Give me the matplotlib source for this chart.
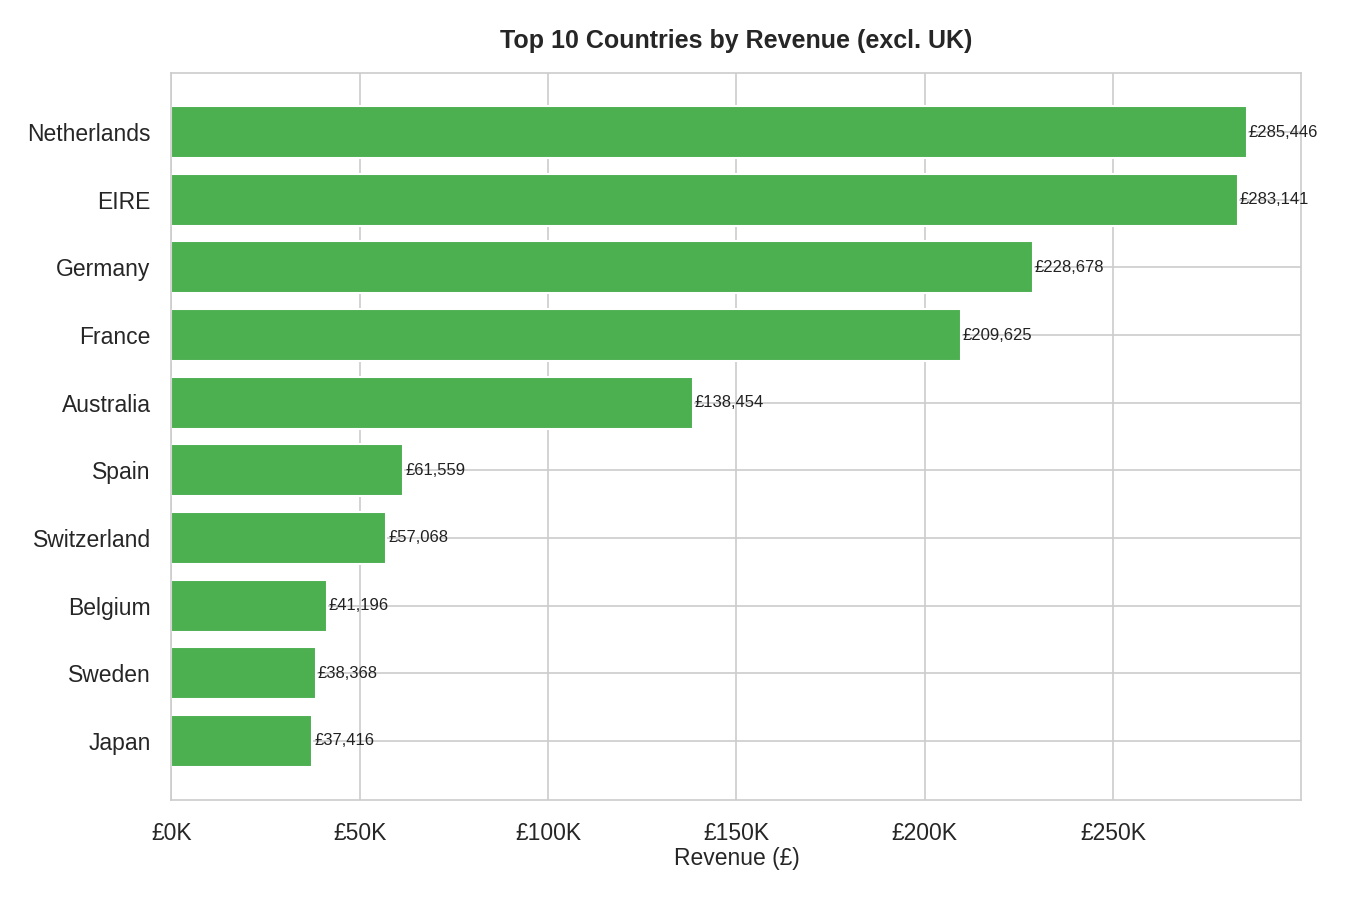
import matplotlib.pyplot as plt
import seaborn as sns
from matplotlib.ticker import FuncFormatter

countries = ["Netherlands", "EIRE", "Germany", "France", "Australia",
             "Spain", "Switzerland", "Belgium", "Sweden", "Japan"]
revenue = [285446, 283141, 228678, 209625, 138454,
           61559, 57068, 41196, 38368, 37416]

sns.set_style("whitegrid")
plt.rcParams['font.family'] = ['Arial', 'Liberation Sans', 'DejaVu Sans']

fig = plt.figure(figsize=(9, 6), dpi=150)
ax = fig.add_axes([0.127, 0.111, 0.837, 0.808])

ax.barh(countries[::-1], revenue[::-1], color="#4CAF50", height=0.77)
for c, v in zip(countries, revenue):
    ax.text(v + 500, c, "£{:,}".format(v), va="center", ha="left", fontsize=8, color="#222222")

ax.set_xlim(0, 300000)
ax.set_xticks([0, 50000, 100000, 150000, 200000, 250000])
ax.xaxis.set_major_formatter(FuncFormatter(lambda x, p: "£{:.0f}K".format(x / 1000)))
ax.tick_params(labelsize=11)
ax.tick_params(axis="y", pad=6.5)
ax.tick_params(axis="x", pad=7)
ax.set_xlabel("Revenue (£)", fontsize=11, labelpad=1)
ax.set_title("Top 10 Countries by Revenue (excl. UK)", fontsize=12, fontweight="bold", pad=12)
for s in ax.spines.values():
    s.set_color("#cccccc")

fig.savefig("out.png", dpi=150)
